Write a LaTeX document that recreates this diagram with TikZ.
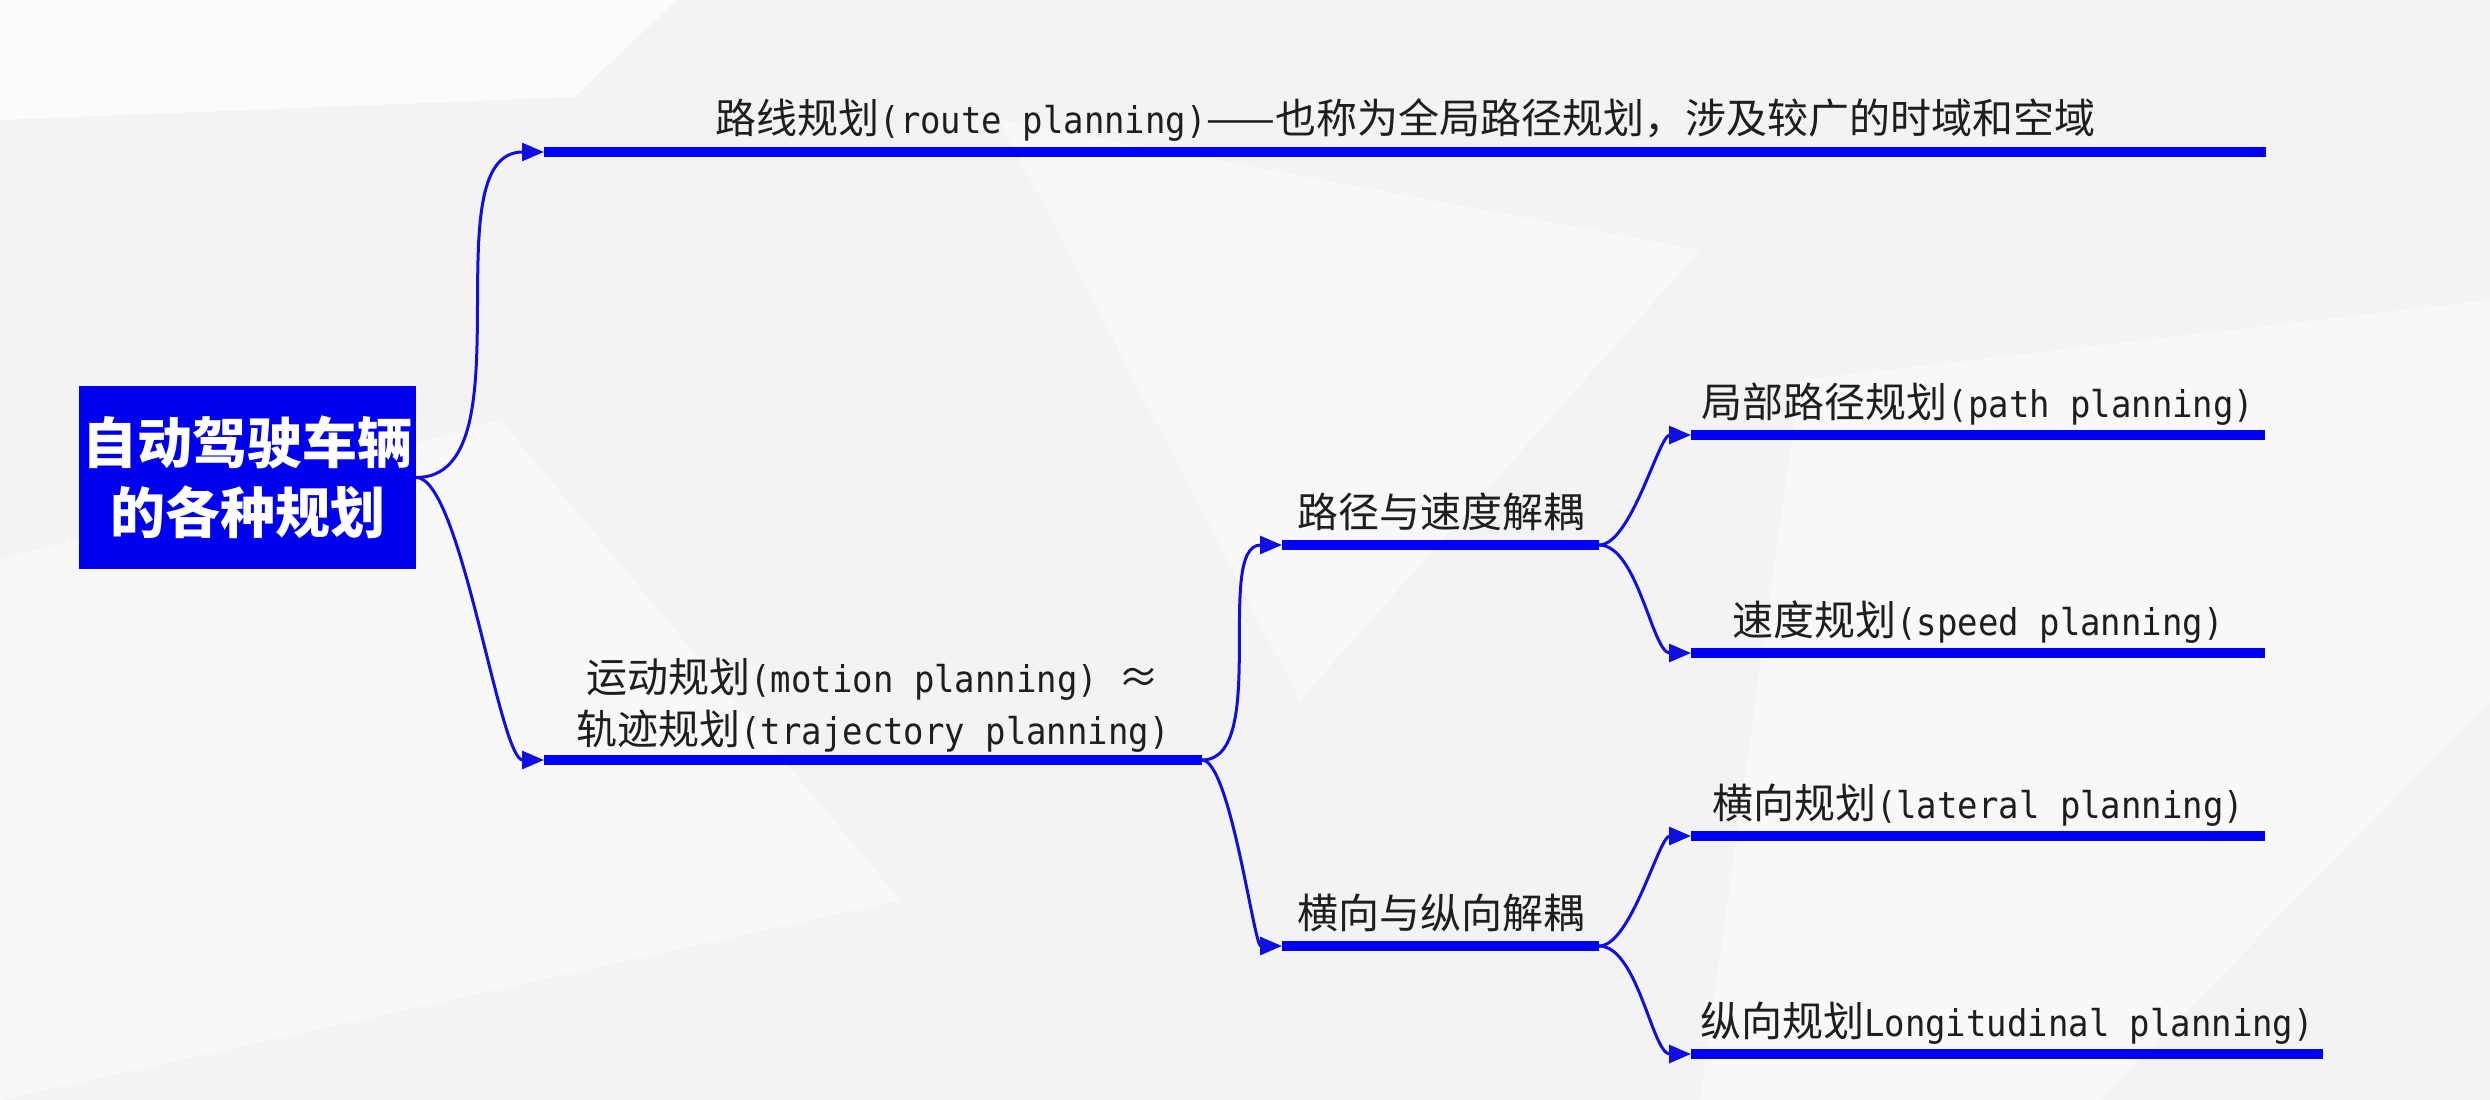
\documentclass[tikz,border=0pt]{standalone}
\usepackage{fontspec}
\setmainfont{Noto Sans CJK SC}
\newfontfamily\lat{DejaVu Sans Mono}[Scale=0.9,FakeStretch=0.92]
\usetikzlibrary{arrows.meta,calc}
\definecolor{lineblue}{RGB}{0,0,245}
\definecolor{curveblue}{RGB}{15,15,225}
\definecolor{boxblue}{RGB}{0,0,240}
\definecolor{bgbase}{RGB}{243,243,244}
\definecolor{bglight}{RGB}{248,248,249}
\definecolor{bgwhite}{RGB}{251,251,252}
\definecolor{txt}{RGB}{30,30,30}
\newcommand\mmconn[3]{\draw[conn] let \p1=(#1), \p2=(#2) in (#1) .. controls ({\x1+#3*(\x2-\x1)},\y1) and ({\x2-#3*(\x2-\x1)},\y2) .. (#2);}
\begin{document}
\begin{tikzpicture}[x=1pt,y=-1pt,
  thickline/.style={draw=lineblue,line width=10pt},
  conn/.style={draw=curveblue,line width=3pt,-{Triangle[length=22pt,width=18pt]}},
  lbl/.style={anchor=base,inner sep=0pt,text=txt,font=\fontsize{41}{52}\selectfont},
  rootbox/.style={fill=boxblue,minimum width=337pt,minimum height=183pt,inner sep=0pt,
    text=white,align=center,font=\fontsize{55}{70}\selectfont\bfseries}]
\useasboundingbox (0,0) rectangle (2490,1100);
% background
\fill[bgbase] (0,0) rectangle (2490,1100);
\fill[bgwhite] (0,0) -- (677,0) -- (574,97) -- (0,120) -- cycle;
\fill[bglight] (1800,380) -- (2490,300) -- (2490,700) -- (2100,1100) -- (1700,1100) -- cycle;
\fill[bglight] (0,560) -- (500,420) -- (900,900) -- (0,1100) -- cycle;
\fill[bglight] (1000,120) -- (1700,250) -- (1300,700) -- cycle;
% root
\node[rootbox] (root) at (247.5,477.5) {自动驾驶车辆\\的各种规划};
% line coordinates
\coordinate (r0s) at (544,152);  \coordinate (r0e) at (2266,152);
\coordinate (r1s) at (544,760);  \coordinate (r1e) at (1202,760);
\coordinate (r2as) at (1282,545); \coordinate (r2ae) at (1599,545);
\coordinate (r2bs) at (1282,946); \coordinate (r2be) at (1599,946);
\coordinate (r3as) at (1691,435); \coordinate (r3ae) at (2265,435);
\coordinate (r3bs) at (1691,653); \coordinate (r3be) at (2265,653);
\coordinate (r3cs) at (1691,836); \coordinate (r3ce) at (2265,836);
\coordinate (r3ds) at (1691,1054); \coordinate (r3de) at (2323,1054);
% thick lines
\foreach \a/\b in {r0s/r0e,r1s/r1e,r2as/r2ae,r2bs/r2be,r3as/r3ae,r3bs/r3be,r3cs/r3ce,r3ds/r3de}
  \draw[thickline] (\a) -- (\b);
% labels
\node[lbl] (t0) at (1405.5,133) {路线规划{\lat (route planning)}——也称为全局路径规划，涉及较广的时域和空域};
\node[lbl] (t1a) at (873,692) {运动规划{\lat (motion planning) }≈};
\node[lbl] (t1b) at (873,744) {轨迹规划{\lat (trajectory planning)}};
\node[lbl] (t2a) at (1441,527) {路径与速度解耦};
\node[lbl] (t2b) at (1441,928) {横向与纵向解耦};
\node[lbl] (t3a) at (1978,417) {局部路径规划{\lat (path planning)}};
\node[lbl] (t3b) at (1978,635) {速度规划{\lat (speed planning)}};
\node[lbl] (t3c) at (1978,818) {横向规划{\lat (lateral planning)}};
\node[lbl] (t3d) at (2007,1036) {纵向规划{\lat Longitudinal planning)}};
% connectors
\mmconn{root.east}{r0s}{0.9}
\mmconn{root.east}{r1s}{0.35}
\mmconn{r1e}{r2as}{0.85}
\mmconn{r1e}{r2bs}{0.35}
\mmconn{r2ae}{r3as}{0.35}
\mmconn{r2ae}{r3bs}{0.42}
\mmconn{r2be}{r3cs}{0.35}
\mmconn{r2be}{r3ds}{0.42}
\end{tikzpicture}
\end{document}
